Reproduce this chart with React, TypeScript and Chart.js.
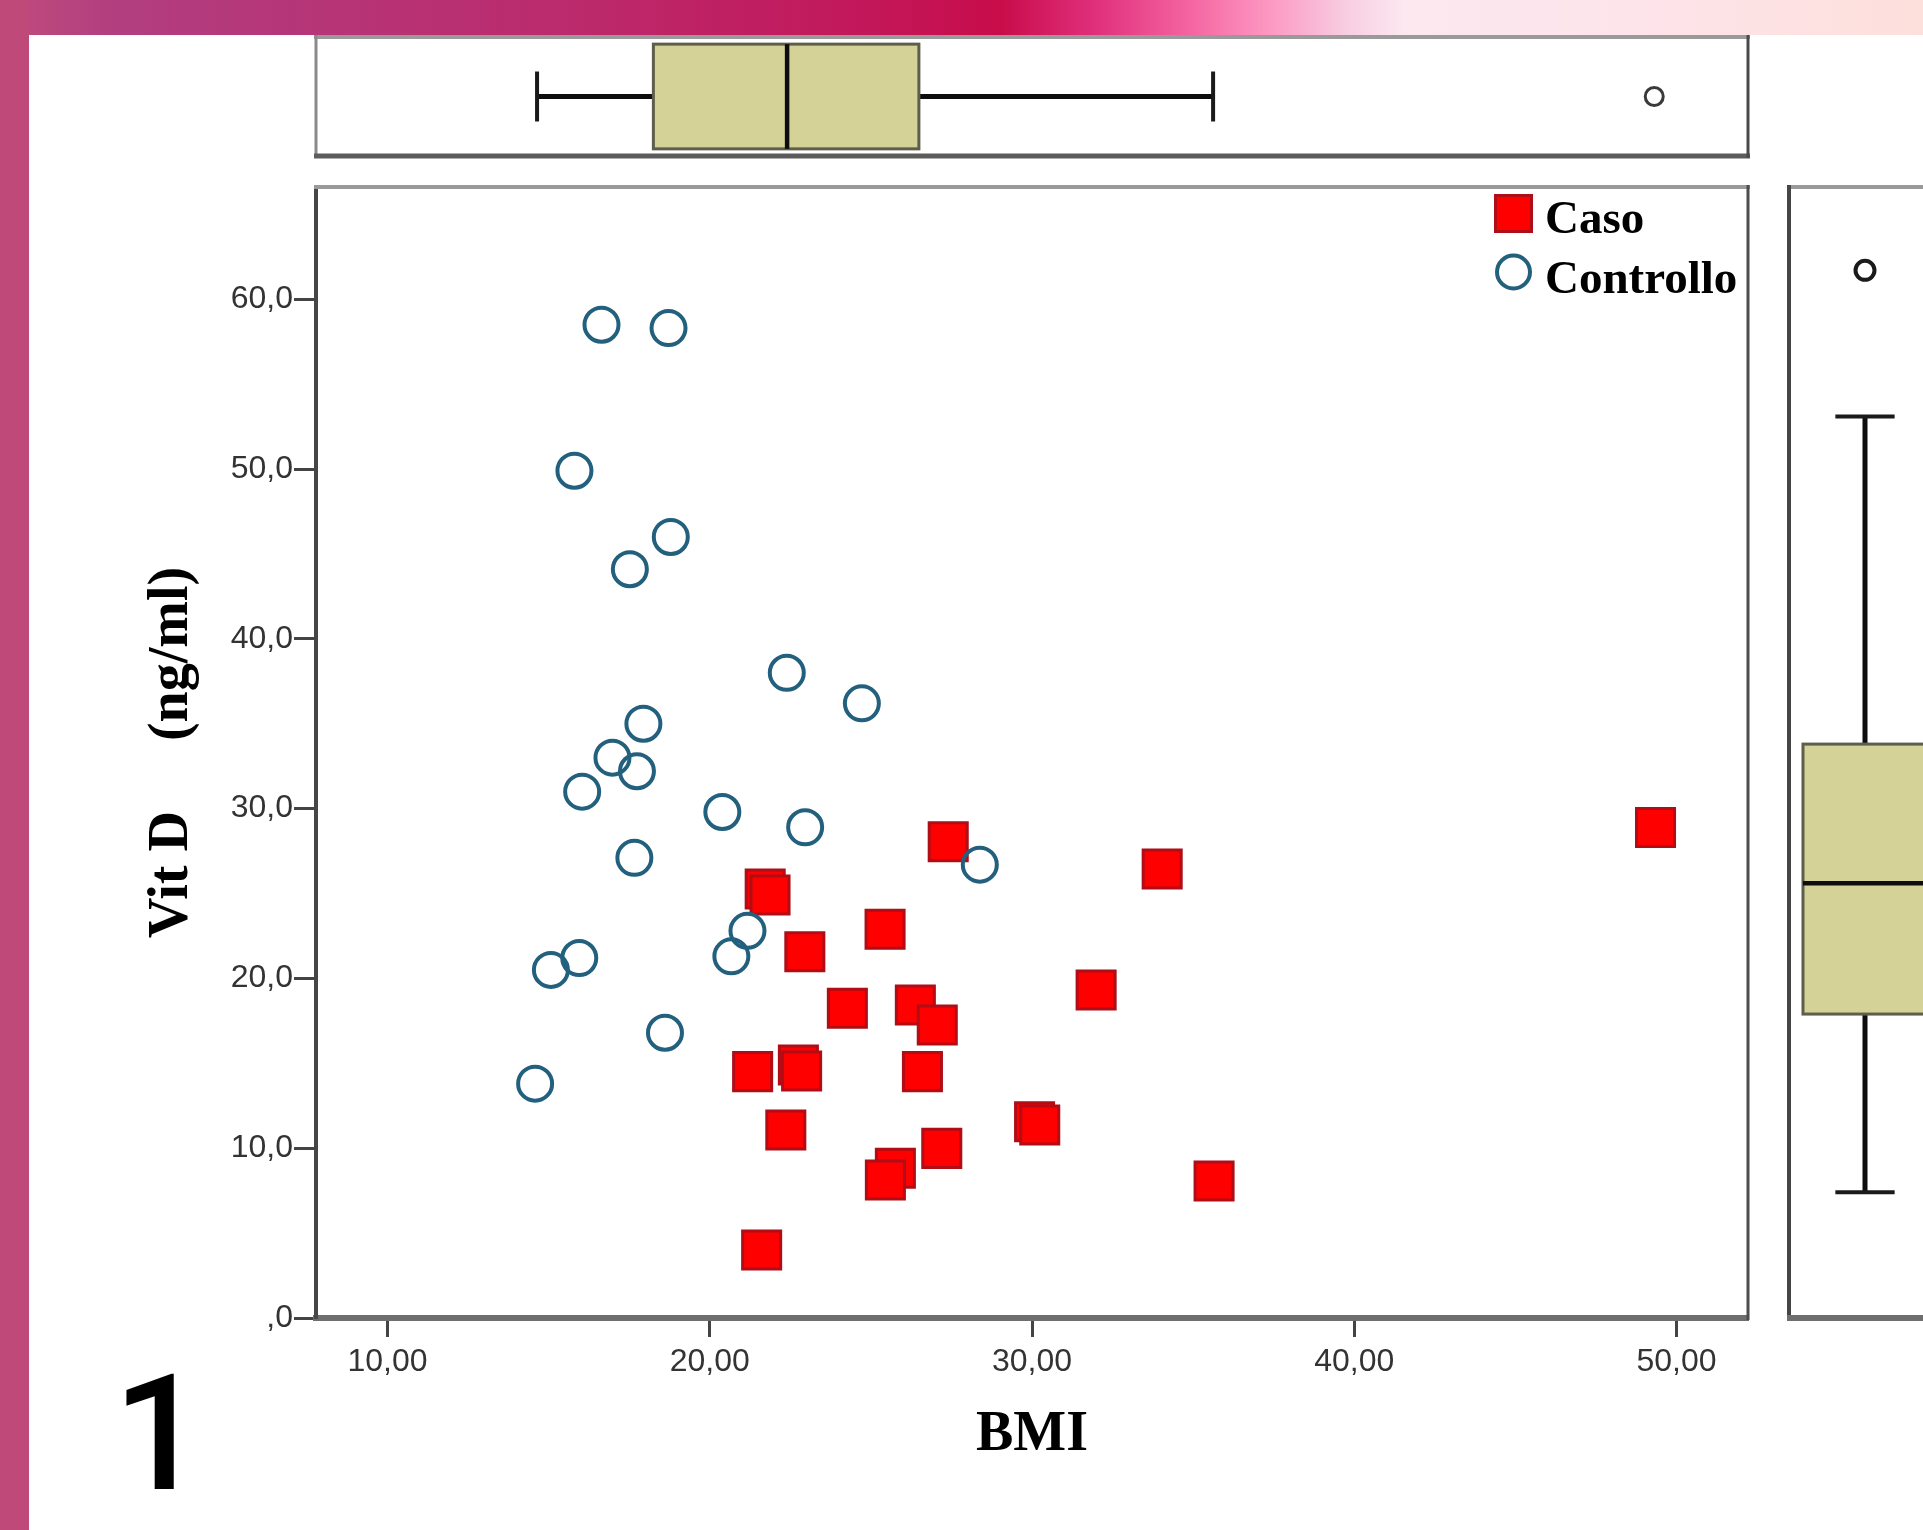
import React, { useEffect, useRef } from 'react';
import { Chart, registerables } from 'chart.js';

Chart.register(...registerables);

// ---------------- data ----------------
const seriesNames = ['Caso', 'Controllo'];

const casoBMI = [49.35, 27.4, 34.04, 21.72, 21.87, 25.44, 22.95, 31.99, 24.27, 26.38, 27.06, 21.33, 22.75, 22.85, 26.6, 22.36, 30.08, 30.24, 27.2, 25.76, 25.45, 35.65, 21.61];
const casoVitD = [28.89, 28.05, 26.44, 25.27, 24.91, 22.89, 21.57, 19.32, 18.24, 18.43, 17.26, 14.51, 14.9, 14.55, 14.51, 11.07, 11.56, 11.37, 9.99, 8.82, 8.13, 8.07, 4.0];

const controlloBMI = [16.64, 18.72, 15.8, 18.79, 17.52, 22.39, 24.72, 17.94, 16.98, 17.74, 16.04, 20.39, 22.96, 17.66, 28.38, 21.17, 20.67, 15.95, 15.07, 18.61, 14.58];
const controlloVitD = [58.5, 58.3, 49.9, 46.0, 44.1, 38.0, 36.2, 35.0, 33.0, 32.2, 31.0, 29.8, 28.9, 27.1, 26.7, 22.8, 21.3, 21.2, 20.5, 16.8, 13.8];

// box plot stats: [lower whisker, Q1, median, Q3, upper whisker]
const bmiBoxStats = [14.64, 18.25, 22.4, 26.49, 35.62];
const bmiOutliers = [49.31];
const vitDBoxStats = [7.4, 17.9, 25.6, 33.8, 53.1];
const vitDOutliers = [61.7];

const xTickValues = [10, 20, 30, 40, 50];
const xTickLabels = ['10,00', '20,00', '30,00', '40,00', '50,00'];
const yTickValues = [0, 10, 20, 30, 40, 50, 60];
const yTickLabels = [',0', '10,0', '20,0', '30,0', '40,0', '50,0', '60,0'];

const xAxisTitle = 'BMI';
const yAxisTitle = 'Vit D     (ng/ml)';
const panelLabel = '1';

// ---------------- axis ranges / styles ----------------
const X_MIN = 7.78;
const X_MAX = 52.22;
const Y_MIN = 0;
const Y_MAX = 66.61;

const SERIF = '"Liberation Serif", "Times New Roman", serif';
const SANS = '"Liberation Sans", Arial, Helvetica, sans-serif';
const LABEL_FONT = 'Roboto, "Open Sans", Arial, sans-serif';
const BOX_FILL = '#d4d296';
const BOX_EDGE = '#5e5e4c';
const CASO_FILL = '#ff0000';
const CASO_EDGE = '#b00d16';
const CTRL_EDGE = '#22607e';

type FrameSpec = { side: 'top' | 'left' | 'bottom' | 'right'; color: string; width: number };

function framePlugin(id: string, sides: FrameSpec[]) {
  return {
    id,
    beforeDatasetsDraw(chart: any) {
      const { ctx, chartArea: a } = chart;
      ctx.save();
      for (const s of sides) {
        ctx.fillStyle = s.color;
        const w = s.width;
        if (s.side === 'top') ctx.fillRect(a.left - 2, a.top - w / 2, a.right - a.left + 4, w);
        if (s.side === 'bottom') ctx.fillRect(a.left - 2, a.bottom - w / 2, a.right - a.left + 4, w);
        if (s.side === 'left') ctx.fillRect(a.left - w / 2, a.top - 2, w, a.bottom - a.top + 4);
        if (s.side === 'right') ctx.fillRect(a.right - w / 2, a.top - 2, w, a.bottom - a.top + 4);
      }
      ctx.restore();
    },
  };
}

function boxPlugin(id: string, stats: number[], horizontal: boolean) {
  return {
    id,
    beforeDatasetsDraw(chart: any) {
      const { ctx } = chart;
      const vs = horizontal ? chart.scales.x : chart.scales.y; // value scale
      const cs = horizontal ? chart.scales.y : chart.scales.x; // cross scale (0..1)
      const p = stats.map((v) => vs.getPixelForValue(v));
      const c = cs.getPixelForValue(0.5);
      const b0 = cs.getPixelForValue(horizontal ? 0.06 : 0.092);
      const b1 = cs.getPixelForValue(horizontal ? 0.94 : 0.908);
      const k0 = cs.getPixelForValue(horizontal ? 0.29 : 0.305);
      const k1 = cs.getPixelForValue(horizontal ? 0.71 : 0.695);
      ctx.save();
      const line = (x1: number, y1: number, x2: number, y2: number, w: number, col: string) => {
        ctx.beginPath();
        ctx.lineWidth = w;
        ctx.strokeStyle = col;
        ctx.moveTo(x1, y1);
        ctx.lineTo(x2, y2);
        ctx.stroke();
      };
      const L = (v1: number, c1: number, v2: number, c2: number, w: number, col: string) =>
        horizontal ? line(v1, c1, v2, c2, w, col) : line(c1, v1, c2, v2, w, col);
      // whiskers
      L(p[0], c, p[1], c, 5, '#0d0d0d');
      L(p[3], c, p[4], c, 5, '#0d0d0d');
      // caps
      L(p[0], k0, p[0], k1, 4, '#1a1a1a');
      L(p[4], k0, p[4], k1, 4, '#1a1a1a');
      // box
      ctx.fillStyle = BOX_FILL;
      ctx.strokeStyle = BOX_EDGE;
      ctx.lineWidth = 3;
      if (horizontal) {
        const x = Math.min(p[1], p[3]);
        const w = Math.abs(p[3] - p[1]);
        const y = Math.min(b0, b1);
        const h = Math.abs(b1 - b0);
        ctx.fillRect(x, y, w, h);
        ctx.strokeRect(x, y, w, h);
      } else {
        const y = Math.min(p[1], p[3]);
        const h = Math.abs(p[3] - p[1]);
        const x = Math.min(b0, b1);
        const w = Math.abs(b1 - b0);
        ctx.fillRect(x, y, w, h);
        ctx.strokeRect(x, y, w, h);
      }
      // median
      L(p[2], b0, p[2], b1, 4.5, '#0d0d0d');
      ctx.restore();
    },
  };
}

const legendPlugin = {
  id: 'customLegend',
  afterDatasetsDraw(chart: any) {
    const { ctx, chartArea: a } = chart;
    ctx.save();
    const sx = a.right - 254;
    const sy = a.top + 7;
    ctx.fillStyle = CASO_FILL;
    ctx.fillRect(sx, sy, 39, 39);
    ctx.strokeStyle = CASO_EDGE;
    ctx.lineWidth = 3;
    ctx.strokeRect(sx + 1.5, sy + 1.5, 36, 36);
    ctx.beginPath();
    ctx.arc(a.right - 234.5, a.top + 85, 16.5, 0, Math.PI * 2);
    ctx.lineWidth = 4;
    ctx.strokeStyle = CTRL_EDGE;
    ctx.stroke();
    ctx.fillStyle = '#000';
    ctx.font = `bold 47px ${SERIF}`;
    ctx.textBaseline = 'alphabetic';
    ctx.textAlign = 'left';
    ctx.fillText(seriesNames[0], a.right - 203, a.top + 46);
    ctx.fillText(seriesNames[1], a.right - 203, a.top + 106);
    ctx.restore();
  },
};

const panelLabelPlugin = {
  id: 'panelLabel',
  afterDraw(chart: any) {
    const { ctx } = chart;
    ctx.save();
    ctx.fillStyle = '#000';
    ctx.font = `500 162px ${LABEL_FONT}`;
    ctx.textBaseline = 'alphabetic';
    ctx.textAlign = 'center';
    ctx.fillText(panelLabel, 159, 1489);
    ctx.restore();
  },
};

export default function App() {
  const mainRef = useRef<HTMLCanvasElement | null>(null);
  const topRef = useRef<HTMLCanvasElement | null>(null);
  const rightRef = useRef<HTMLCanvasElement | null>(null);

  useEffect(() => {
    const charts: Chart[] = [];

    if (mainRef.current) {
      charts.push(
        new Chart(mainRef.current, {
          type: 'scatter',
          data: {
            datasets: [
              {
                label: seriesNames[0],
                data: casoBMI.map((x, i) => ({ x, y: casoVitD[i] })),
                pointStyle: 'rect',
                pointRadius: 26.9,
                backgroundColor: CASO_FILL,
                borderColor: CASO_EDGE,
                borderWidth: 3,
                order: 1,
              } as any,
              {
                label: seriesNames[1],
                data: controlloBMI.map((x, i) => ({ x, y: controlloVitD[i] })),
                pointStyle: 'circle',
                pointRadius: 17,
                backgroundColor: 'rgba(0,0,0,0)',
                borderColor: CTRL_EDGE,
                borderWidth: 4,
                order: 0,
              } as any,
            ],
          },
          options: {
            animation: false,
            responsive: false,
            maintainAspectRatio: false,
            events: [],
            layout: { autoPadding: false, padding: { left: 144.5, top: 187, right: 175, bottom: 66 } },
            plugins: { legend: { display: false }, tooltip: { enabled: false } },
            scales: {
              x: {
                type: 'linear',
                min: X_MIN,
                max: X_MAX,
                afterBuildTicks: (s: any) => {
                  s.ticks = xTickValues.map((v) => ({ value: v }));
                },
                afterFit: (s: any) => {
                  s.height = 146;
                },
                ticks: {
                  autoSkip: false,
                  maxRotation: 0,
                  padding: 6,
                  color: '#333',
                  font: { family: SANS, size: 32 },
                  callback: (_v: any, i: number) => xTickLabels[i],
                },
                grid: { display: true, drawOnChartArea: false, drawTicks: true, tickLength: 19, tickWidth: 3, tickColor: '#444' },
                border: { display: true, color: '#6e6e6e', width: 6 },
                title: { display: true, text: xAxisTitle, color: '#000', padding: 0, font: { family: SERIF, size: 56, weight: 'bold', lineHeight: 1 } },
              },
              y: {
                type: 'linear',
                min: Y_MIN,
                max: Y_MAX,
                afterBuildTicks: (s: any) => {
                  s.ticks = yTickValues.map((v) => ({ value: v }));
                },
                afterFit: (s: any) => {
                  s.width = 171.5;
                },
                ticks: {
                  autoSkip: false,
                  padding: 1,
                  color: '#333',
                  font: { family: SANS, size: 32 },
                  callback: (_v: any, i: number) => yTickLabels[i],
                },
                grid: { display: true, drawOnChartArea: false, drawTicks: true, tickLength: 22, tickWidth: 3, tickColor: '#444' },
                border: { display: true, color: '#464646', width: 4 },
                title: { display: true, text: yAxisTitle, color: '#000', padding: 0, font: { family: SERIF, size: 56, weight: 'bold', lineHeight: 1 } },
              },
            },
          } as any,
          plugins: [
            framePlugin('mainFrame', [
              { side: 'top', color: '#9a9a9a', width: 4 },
              { side: 'right', color: '#4d4d4d', width: 3 },
            ]),
            legendPlugin,
            panelLabelPlugin,
          ],
        })
      );
    }

    if (topRef.current) {
      charts.push(
        new Chart(topRef.current, {
          type: 'scatter',
          data: {
            datasets: [
              {
                data: bmiOutliers.map((x) => ({ x, y: 0.5 })),
                pointStyle: 'circle',
                pointRadius: 9,
                backgroundColor: 'rgba(0,0,0,0)',
                borderColor: '#3a3a3a',
                borderWidth: 3,
              } as any,
            ],
          },
          options: {
            animation: false,
            responsive: false,
            maintainAspectRatio: false,
            events: [],
            layout: { autoPadding: false, padding: { left: 10, right: 10, top: 7, bottom: 6 } },
            plugins: { legend: { display: false }, tooltip: { enabled: false } },
            scales: {
              x: { type: 'linear', display: false, min: X_MIN, max: X_MAX },
              y: { type: 'linear', display: false, min: 0, max: 1 },
            },
          } as any,
          plugins: [
            framePlugin('topFrame', [
              { side: 'top', color: '#9a9a9a', width: 4 },
              { side: 'left', color: '#8a8a8a', width: 3 },
              { side: 'bottom', color: '#5c5c5c', width: 5 },
              { side: 'right', color: '#4a4a4a', width: 3 },
            ]),
            boxPlugin('bmiBox', bmiBoxStats, true),
          ],
        })
      );
    }

    if (rightRef.current) {
      charts.push(
        new Chart(rightRef.current, {
          type: 'scatter',
          data: {
            datasets: [
              {
                data: vitDOutliers.map((y) => ({ x: 0.5, y })),
                pointStyle: 'circle',
                pointRadius: 9.5,
                backgroundColor: 'rgba(0,0,0,0)',
                borderColor: '#1a1a1a',
                borderWidth: 4,
              } as any,
            ],
          },
          options: {
            animation: false,
            responsive: false,
            maintainAspectRatio: false,
            events: [],
            layout: { autoPadding: false, padding: { left: 10, right: 10, top: 7, bottom: 8 } },
            plugins: { legend: { display: false }, tooltip: { enabled: false } },
            scales: {
              x: { type: 'linear', display: false, min: 0, max: 1 },
              y: { type: 'linear', display: false, min: Y_MIN, max: Y_MAX },
            },
          } as any,
          plugins: [
            framePlugin('rightFrame', [
              { side: 'top', color: '#9a9a9a', width: 4 },
              { side: 'left', color: '#464646', width: 4 },
              { side: 'bottom', color: '#6e6e6e', width: 6 },
            ]),
            boxPlugin('vitDBox', vitDBoxStats, false),
          ],
        })
      );
    }

    return () => {
      charts.forEach((c) => c.destroy());
    };
  }, []);

  return (
    <div
      style={{
        position: 'fixed',
        left: 0,
        top: 0,
        width: 1923,
        height: 1530,
        overflow: 'hidden',
        background: '#ffffff',
      }}
    >
      <div
        style={{
          position: 'absolute',
          left: 0,
          top: 0,
          width: 1923,
          height: 35,
          background:
            'linear-gradient(to right, #c04c7c 0%, #b23e80 6%, #bb2a6c 30%, #c2185a 45%, #c80c4a 52%, #e0307c 57%, #f566a2 62%, #fc98c2 66%, #f8cde2 70%, #fce8f0 73%, #fde4ea 85%, #fde0dc 100%)',
        }}
      />
      <div style={{ position: 'absolute', left: 0, top: 0, width: 29, height: 1530, background: '#bf4a7a' }} />
      <canvas ref={mainRef} width={1923} height={1530} style={{ position: 'absolute', left: 0, top: 0, width: 1923, height: 1530 }} />
      <canvas ref={topRef} width={1452} height={132} style={{ position: 'absolute', left: 306, top: 30, width: 1452, height: 132 }} />
      <canvas ref={rightRef} width={172} height={1146} style={{ position: 'absolute', left: 1779, top: 180, width: 172, height: 1146 }} />
    </div>
  );
}
